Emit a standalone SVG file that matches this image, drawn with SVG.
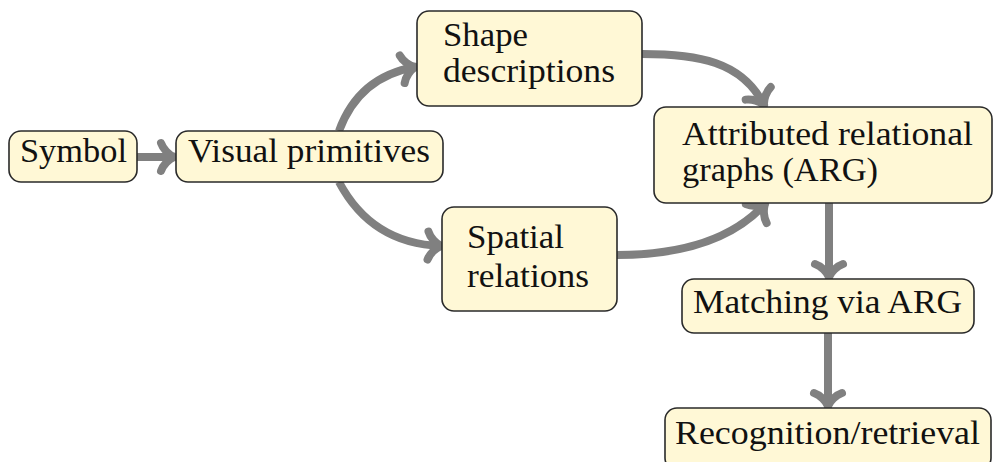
<svg xmlns="http://www.w3.org/2000/svg" width="993" height="462" viewBox="0 0 993 462">
<style>
.box{fill:#FFF8D6;stroke:#2a2a2a;stroke-width:1.6}
.t{font-family:"Liberation Serif","DejaVu Serif",serif;font-size:34px;fill:#111}
.c{fill:none;stroke:#808080;stroke-width:8;marker-end:url(#arr)}
</style>
<defs>
<marker id="arr" markerUnits="userSpaceOnUse" orient="auto" overflow="visible" refX="0" refY="0" markerWidth="30" markerHeight="30">
<path d="M-13,-14 C-11,-8 -5,-2 0,0 M-13,14 C-11,8 -5,2 0,0" fill="none" stroke="#808080" stroke-width="8" stroke-linecap="round" stroke-linejoin="round"/>
</marker>
</defs>
<rect width="993" height="462" fill="#ffffff"/>
<g id="connectors">
<path class="c" d="M137,157 L174,157"/>
<path class="c" d="M339,131 C352.5,94 377.6,73.6 415,67"/>
<path class="c" d="M339,182 C361,223.5 395,244.4 441,246"/>
<path class="c" d="M642,54 C697,54 742,61 764,105"/>
<path class="c" d="M617,255 C685,255 735,237 765,204"/>
<path class="c" d="M829,203 L829,277"/>
<path class="c" d="M828,333 L828,406"/>
</g>
<g id="symbol">
<rect class="box" x="9" y="131" width="128" height="51" rx="12"/>
<text class="t" x="20" y="162" textLength="107" lengthAdjust="spacingAndGlyphs">Symbol</text>
</g>
<g id="visual-primitives">
<rect class="box" x="176" y="131" width="267" height="51" rx="12"/>
<text class="t" x="188" y="162" textLength="242" lengthAdjust="spacingAndGlyphs">Visual primitives</text>
</g>
<g id="shape-descriptions">
<rect class="box" x="417" y="11" width="225" height="95" rx="12"/>
<text class="t" x="443" y="46" textLength="85" lengthAdjust="spacingAndGlyphs">Shape</text>
<text class="t" x="443" y="82" textLength="172" lengthAdjust="spacingAndGlyphs">descriptions</text>
</g>
<g id="spatial-relations">
<rect class="box" x="442" y="207" width="175" height="104" rx="12"/>
<text class="t" x="467" y="248" textLength="97" lengthAdjust="spacingAndGlyphs">Spatial</text>
<text class="t" x="467" y="287" textLength="122" lengthAdjust="spacingAndGlyphs">relations</text>
</g>
<g id="arg">
<rect class="box" x="654" y="107" width="338" height="96" rx="12"/>
<text class="t" x="682" y="145" textLength="291" lengthAdjust="spacingAndGlyphs">Attributed relational</text>
<text class="t" x="682" y="181" textLength="196" lengthAdjust="spacingAndGlyphs">graphs (ARG)</text>
</g>
<g id="matching">
<rect class="box" x="682" y="279" width="292" height="54" rx="12"/>
<text class="t" x="693" y="313" textLength="269" lengthAdjust="spacingAndGlyphs">Matching via ARG</text>
</g>
<g id="recognition">
<rect class="box" x="665" y="408" width="326" height="62" rx="12"/>
<text class="t" x="675" y="444" textLength="305" lengthAdjust="spacingAndGlyphs">Recognition/retrieval</text>
</g>
</svg>
